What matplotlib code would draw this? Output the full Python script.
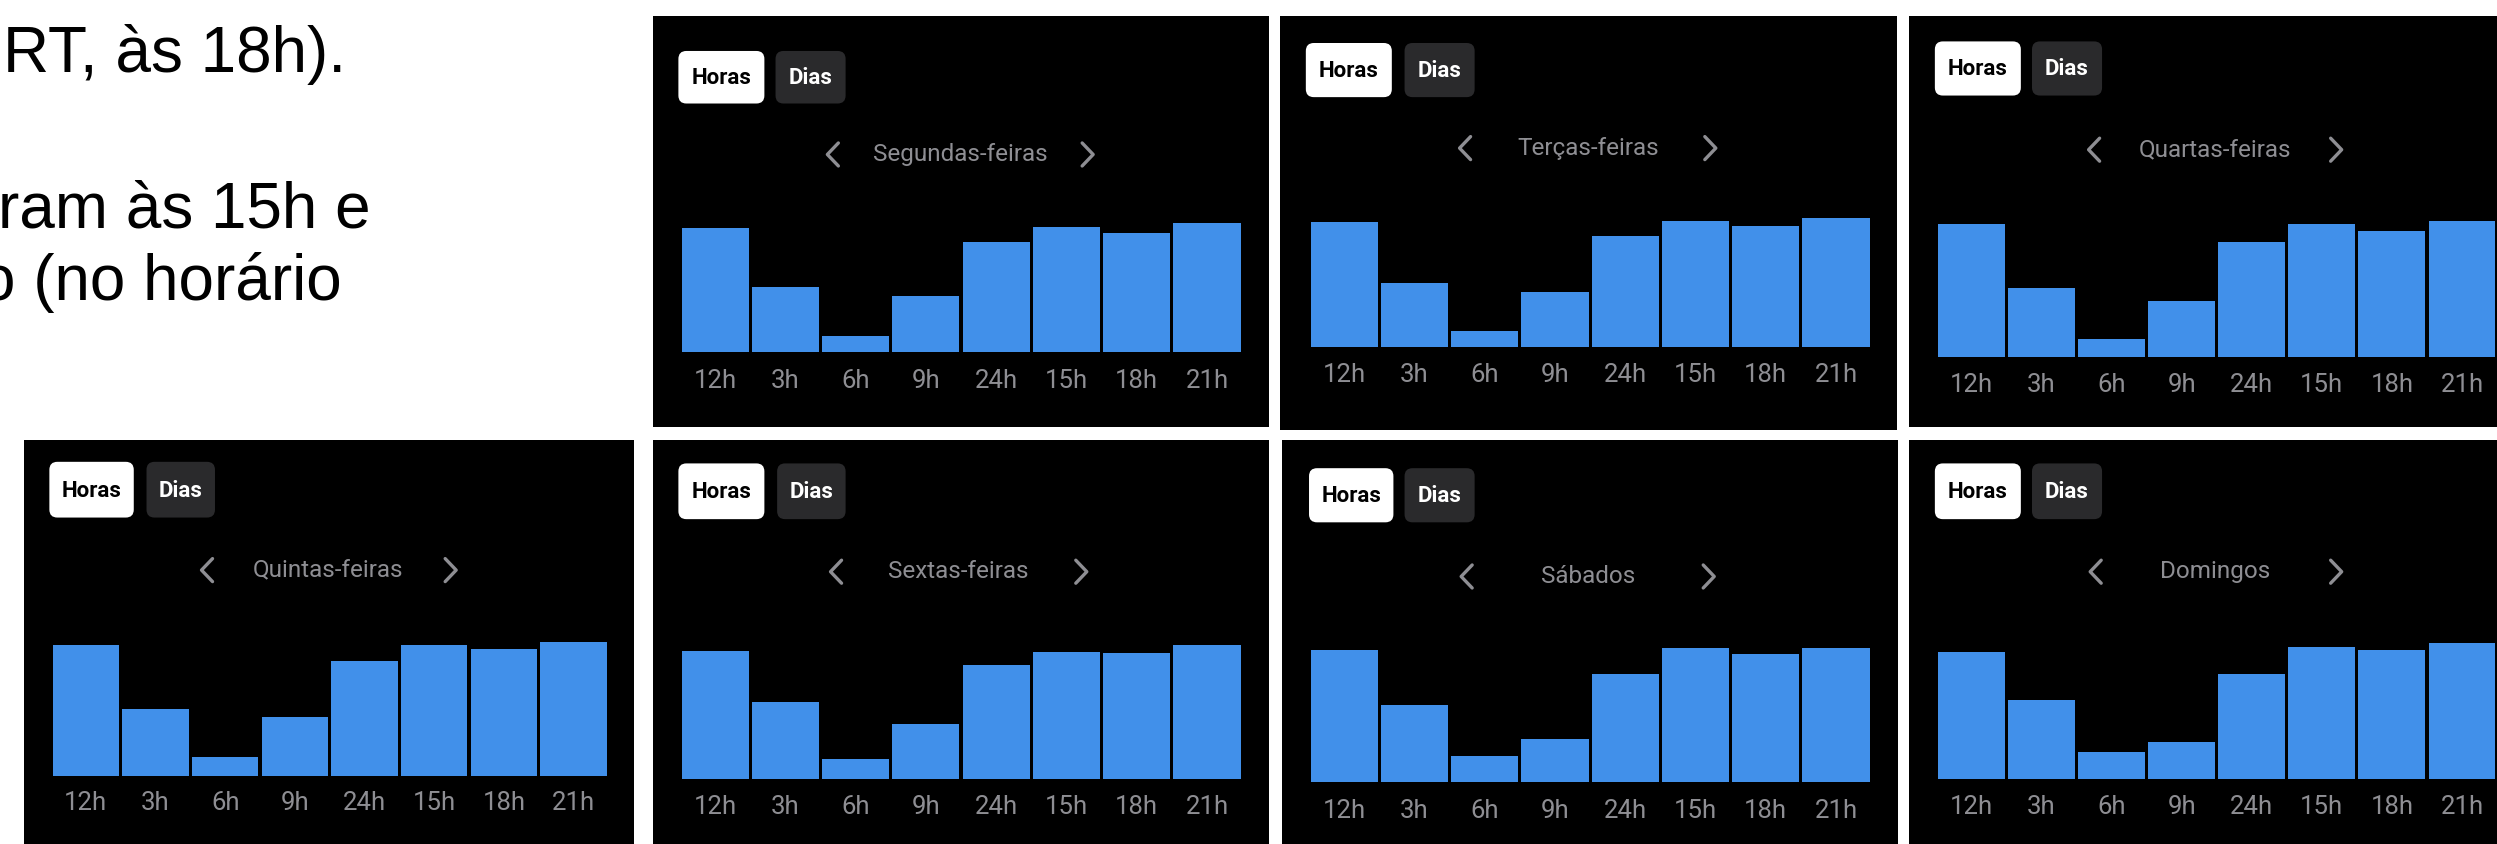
import matplotlib
matplotlib.use("Agg")
import matplotlib.pyplot as plt
from matplotlib.patches import FancyBboxPatch, Rectangle
from matplotlib.lines import Line2D

# ---------------- data ----------------
hours = ["12h", "3h", "6h", "9h", "24h", "15h", "18h", "21h"]
day_titles = ["Segundas-feiras", "Terças-feiras", "Quartas-feiras",
              "Quintas-feiras", "Sextas-feiras", "Sábados", "Domingos"]
# relative activity per slot (tallest bar of each day = 100)
seg = [95.8, 50.6, 12.7, 43.1, 84.9, 96.6, 92.5, 100]
ter = [97.2, 49.9, 12.9, 42.9, 86.3, 97.9, 93.8, 100]
qua = [97.8, 50.5, 13.4, 41.5, 84.8, 97.8, 93.0, 100]
qui = [97.8, 49.9, 14.2, 43.6, 85.5, 97.8, 94.3, 100]
sex = [95.3, 57.5, 14.9, 41.0, 85.1, 94.5, 93.8, 100]
sab = [98.3, 57.5, 19.0, 32.0, 81.0, 100, 95.3, 100]
dom = [93.3, 58.3, 19.8, 27.3, 77.5, 97.5, 94.8, 100]
series = [seg, ter, qua, qui, sex, sab, dom]
btn_labels = ["Horas", "Dias"]
side_text = ["RT, às 18h).", "ram às 15h e", "o (no horário"]

# ---------------- layout (measured on a 1568-wide view, scaled) ----------------
W, H = 2497, 844
S = W / 1568.0
# rect, bars(x0,x1,base,top), label_y, title(cx,y), chevrons(l,r), buttons(hx0,hx1,dx0,dx1,y0,y1)
layout = [
    ((410, 10, 797, 268), (427, 780, 221, 140), 239.5, (603, 97), (523, 683), (426, 480, 487, 531, 32, 65)),
    ((804, 10, 1191, 270), (822, 1175, 218, 137), 235.5, (997, 93), (920, 1074), (820, 874, 882, 926, 27, 61)),
    ((1199, 10, 1570, 268), (1216, 1568, 224, 139), 241.5, (1391, 94), (1315, 1467), (1215, 1269, 1276, 1320, 26, 60)),
    ((15, 276, 398, 532), (32, 382, 487, 403), 504.5, (206, 358), (130, 283), (31, 84, 92, 135, 290, 325)),
    ((410, 276, 797, 532), (427, 780, 489, 405), 506.5, (602, 359), (525, 679), (426, 480, 488, 531, 291, 326)),
    ((805, 276, 1192, 532), (822, 1175, 491, 407), 509.5, (997, 362), (921, 1073), (822, 875, 882, 926, 294, 328)),
    ((1199, 276, 1570, 532), (1216, 1568, 489, 404), 506.5, (1391, 359), (1316, 1467), (1215, 1269, 1276, 1320, 291, 326)),
]

BAR = "#4190EA"
GRAY = "#8E8E93"
UI_FONT = ["Roboto", "DejaVu Sans"]

fig = plt.figure(figsize=(W / 100, H / 100), dpi=100)
fig.patch.set_facecolor("white")
ov = fig.add_axes([0, 0, 1, 1], zorder=0)
ov.set_xlim(0, W)
ov.set_ylim(H, 0)
ov.axis("off")

# side text (pixel positions)
side_y = [72, 228, 300]
side_x = [3, -2, -20]
for t, x, y in zip(side_text, side_x, side_y):
    ov.text(x, y, t, fontsize=46, family=["Liberation Sans", "DejaVu Sans"],
            color="black", va="baseline", ha="left", clip_on=False)

for title, vals, (rect, bars, laby, (tcx, ty), (chl, chr_), btn) in zip(day_titles, series, layout):
    x0, y0, x1, y1 = [v * S for v in rect]
    ov.add_patch(Rectangle((x0, y0), x1 - x0, y1 - y0, facecolor="black", edgecolor="none", zorder=1))
    # buttons
    hx0, hx1, dx0, dx1, by0, by1 = [v * S for v in btn]
    for (bx0, bx1), lab, fc, tc in [((hx0, hx1), btn_labels[0], "white", "black"),
                                     ((dx0, dx1), btn_labels[1], "#2A2A2C", "white")]:
        ov.add_patch(FancyBboxPatch((bx0, by0), bx1 - bx0, by1 - by0,
                                    boxstyle="round,pad=0,rounding_size=8",
                                    facecolor=fc, edgecolor="none", zorder=2))
        ov.text((bx0 + bx1) / 2, (by0 + by1) / 2 + 1, lab, fontsize=16, fontweight="bold",
                family=UI_FONT, color=tc, ha="center", va="center", zorder=3)
    # title + chevrons
    ov.text(tcx * S, ty * S, title, fontsize=17.5, family=UI_FONT, color=GRAY,
            ha="center", va="center", zorder=3)
    cy = ty * S
    hh, ww = 11.5, 11
    for cx, d in [(chl * S, -1), (chr_ * S, 1)]:
        ov.add_line(Line2D([cx - d * ww / 2, cx + d * ww / 2, cx - d * ww / 2],
                           [cy - hh, cy, cy + hh], color=GRAY, lw=2.4,
                           solid_capstyle="round", solid_joinstyle="round", zorder=3))
    # bar axes
    bx0, bx1, base, top = [v * S for v in bars]
    ax = fig.add_axes([bx0 / W, 1 - base / H, (bx1 - bx0) / W, (base - top) / H], zorder=2)
    ax.set_facecolor("none")
    ax.bar(range(len(hours)), vals, width=0.955, color=BAR, edgecolor="none")
    ax.set_xlim(-0.5, len(hours) - 0.5)
    ax.set_ylim(0, 100)
    ax.axis("off")
    for i, h in enumerate(hours):
        xpix = bx0 + (i + 0.5) * (bx1 - bx0) / len(hours)
        ov.text(xpix, laby * S, h, fontsize=18.5, family=UI_FONT, color=GRAY,
                ha="center", va="center", zorder=3)

fig.savefig("out.png", dpi=100, facecolor="white")
